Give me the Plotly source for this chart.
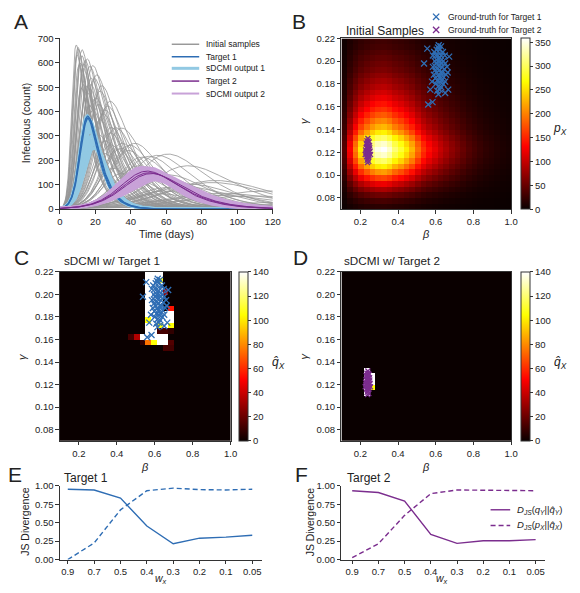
import numpy as np
import plotly.graph_objects as go

W, H = 580, 593
FONT = "Liberation Sans, Arial, sans-serif"
INK = "#222222"

# ======================= DATA =======================
# ---- Panel A: SIR parameter sets (beta, gamma) ----
gray_beta = [1.00, 0.95, 0.90, 0.85, 0.80, 0.75, 0.70, 0.65, 0.60, 0.55,
             0.50, 0.48, 0.45, 0.42, 0.40, 0.38, 0.36, 0.35, 0.34, 0.32,
             0.31, 0.30, 0.29, 0.28, 0.27, 0.26, 0.25, 0.24, 0.23, 0.22,
             0.21, 0.20, 0.19, 0.18, 0.17, 0.16, 0.15, 0.14, 0.13, 0.33,
             0.37, 0.41, 0.44, 0.46, 0.52, 0.56, 0.58, 0.62, 0.66, 0.72,
             0.78, 0.27, 0.29, 0.31, 0.35, 0.39, 0.43, 0.22, 0.24, 0.26,
             0.20, 0.18, 0.16, 0.15, 0.12, 0.11, 0.47, 0.53, 0.68, 0.88,
             0.145, 0.54, 0.63, 0.74, 0.40, 0.36, 0.44, 0.50]
gray_gamma = [0.14, 0.15, 0.13, 0.15, 0.14, 0.12, 0.13, 0.11, 0.10, 0.10,
              0.09, 0.10, 0.09, 0.10, 0.09, 0.11, 0.10, 0.12, 0.09, 0.11,
              0.13, 0.12, 0.10, 0.12, 0.11, 0.13, 0.10, 0.11, 0.12, 0.10,
              0.12, 0.11, 0.12, 0.11, 0.12, 0.11, 0.12, 0.10, 0.11, 0.14,
              0.15, 0.16, 0.14, 0.17, 0.15, 0.13, 0.16, 0.14, 0.17, 0.16,
              0.18, 0.15, 0.17, 0.18, 0.19, 0.20, 0.19, 0.14, 0.16, 0.18,
              0.09, 0.08, 0.08, 0.09, 0.08, 0.09, 0.12, 0.11, 0.12, 0.13,
              0.085, 0.12, 0.15, 0.11, 0.12, 0.13, 0.12, 0.13]

out1_beta = [0.640, 0.630, 0.620, 0.610, 0.600, 0.590, 0.580, 0.570, 0.560,
             0.625, 0.605, 0.585, 0.565, 0.550, 0.545, 0.600, 0.575, 0.590]
out1_gamma = [0.195, 0.200, 0.205, 0.210, 0.215, 0.220, 0.225, 0.230, 0.235,
              0.195, 0.200, 0.205, 0.210, 0.215, 0.220, 0.190, 0.215, 0.200]
target1_beta = [0.630, 0.615, 0.640]
target1_gamma = [0.193, 0.192, 0.200]

out2_beta = [0.250, 0.245, 0.240, 0.235, 0.230, 0.225, 0.220, 0.255,
             0.250, 0.245, 0.235, 0.228, 0.222, 0.218, 0.260, 0.242]
out2_gamma = [0.127, 0.127, 0.127, 0.127, 0.127, 0.127, 0.127, 0.135,
              0.140, 0.142, 0.120, 0.120, 0.120, 0.122, 0.138, 0.135]
target2_beta = [0.238, 0.242, 0.234]
target2_gamma = [0.128, 0.128, 0.127]

N_POP = 1150
I_START = 3.0
DAYS = 120

# ---- Panel B: density of initial samples (30 x 30 bins) ----
beta_profile = [0.11, 0.36, 0.55, 0.72, 0.83, 0.92, 0.98, 1.00, 0.95, 0.86,
                0.80, 0.72, 0.64, 0.53, 0.44, 0.38, 0.33, 0.28, 0.24, 0.20,
                0.17, 0.14, 0.11, 0.09, 0.07, 0.055, 0.045, 0.035, 0.028, 0.022]
gamma_profile = [0.05, 0.09, 0.15, 0.24, 0.34, 0.47, 0.60, 0.73, 0.85, 0.95,
                 1.00, 0.95, 0.85, 0.73, 0.64, 0.57, 0.50, 0.44, 0.39, 0.34,
                 0.30, 0.26, 0.23, 0.20, 0.17, 0.15, 0.13, 0.11, 0.09, 0.08]
PX_PEAK = 358

# ---- Ground-truth parameter clouds ----
t1_beta = [0.555, 0.538, 0.560, 0.583, 0.571, 0.614, 0.666, 0.650, 0.671, 0.663,
           0.616, 0.628, 0.600, 0.610, 0.620, 0.630, 0.615, 0.625, 0.605, 0.635,
           0.640, 0.595, 0.612, 0.628, 0.618, 0.622, 0.608, 0.632, 0.645, 0.590,
           0.600, 0.638, 0.620, 0.605, 0.650, 0.585, 0.615, 0.630, 0.600, 0.642,
           0.655, 0.592, 0.625, 0.610, 0.618, 0.634, 0.603, 0.648, 0.612, 0.626,
           0.598, 0.580, 0.660, 0.620, 0.640, 0.596, 0.622, 0.608, 0.650, 0.585]
t1_gamma = [0.211, 0.198, 0.162, 0.164, 0.175, 0.171, 0.175, 0.172, 0.204, 0.190,
            0.214, 0.213, 0.195, 0.200, 0.192, 0.198, 0.188, 0.185, 0.190, 0.190,
            0.200, 0.200, 0.205, 0.205, 0.196, 0.182, 0.183, 0.183, 0.193, 0.188,
            0.205, 0.208, 0.210, 0.210, 0.198, 0.195, 0.178, 0.177, 0.180, 0.186,
            0.188, 0.208, 0.200, 0.193, 0.186, 0.195, 0.198, 0.205, 0.212, 0.190,
            0.185, 0.182, 0.195, 0.203, 0.180, 0.192, 0.175, 0.174, 0.182, 0.205]
t2_beta = [0.240, 0.235, 0.245, 0.238, 0.243, 0.232, 0.248, 0.236, 0.242, 0.230,
           0.250, 0.239, 0.244, 0.234, 0.246, 0.237, 0.241, 0.233, 0.247, 0.228,
           0.252, 0.240, 0.238, 0.243, 0.236, 0.245, 0.231, 0.249, 0.241, 0.235,
           0.244, 0.239, 0.226, 0.254, 0.237, 0.242]
t2_gamma = [0.122, 0.118, 0.126, 0.128, 0.116, 0.124, 0.120, 0.113, 0.130, 0.120,
            0.124, 0.119, 0.123, 0.127, 0.117, 0.125, 0.114, 0.116, 0.129, 0.122,
            0.121, 0.132, 0.111, 0.120, 0.121, 0.112, 0.128, 0.126, 0.127, 0.130,
            0.118, 0.124, 0.118, 0.118, 0.116, 0.125]

# ---- Panel C: sDCMI posterior with Target 1 (non-empty bins) ----
c_beta = [0.565, 0.595, 0.625,  0.565, 0.595, 0.625,  0.565, 0.595, 0.625,
          0.565, 0.595, 0.625, 0.655,  0.565, 0.595, 0.625,  0.565, 0.595, 0.625,
          0.565, 0.595, 0.625, 0.685,  0.565, 0.595, 0.625, 0.655, 0.685,
          0.565, 0.595, 0.625, 0.655, 0.685,  0.565, 0.595, 0.625, 0.655, 0.685,
          0.565, 0.595, 0.625, 0.655, 0.685,
          0.475, 0.505, 0.535, 0.565, 0.595, 0.625, 0.655,
          0.535, 0.565, 0.595, 0.625, 0.655, 0.685,  0.655, 0.685]
c_gamma = [0.2175, 0.2175, 0.2175,  0.2125, 0.2125, 0.2125,  0.2075, 0.2075, 0.2075,
           0.2025, 0.2025, 0.2025, 0.2025,  0.1975, 0.1975, 0.1975,  0.1925, 0.1925, 0.1925,
           0.1875, 0.1875, 0.1875, 0.1875,  0.1825, 0.1825, 0.1825, 0.1825, 0.1825,
           0.1775, 0.1775, 0.1775, 0.1775, 0.1775,  0.1725, 0.1725, 0.1725, 0.1725, 0.1725,
           0.1675, 0.1675, 0.1675, 0.1675, 0.1675,
           0.1625, 0.1625, 0.1625, 0.1625, 0.1625, 0.1625, 0.1625,
           0.1575, 0.1575, 0.1575, 0.1575, 0.1575, 0.1575,  0.1525, 0.1525]
c_value = [150, 150, 150,  150, 150, 110,  150, 150, 150,
           150, 150, 150, 30,  150, 150, 150,  150, 150, 150,
           150, 150, 150, 55,  150, 150, 150, 150, 150,
           105, 150, 150, 150, 150,  150, 150, 105, 150, 105,
           150, 150, 12, 12, 8,
           12, 35, 150, 150, 150, 150, 150,
           8, 75, 105, 150, 150, 15,  12, 12]

# ---- Panel D: sDCMI posterior with Target 2 (non-empty bins) ----
d_beta = [0.235, 0.235, 0.235, 0.235, 0.235, 0.265, 0.265, 0.265]
d_gamma = [0.1325, 0.1275, 0.1225, 0.1175, 0.1125, 0.1275, 0.1225, 0.1175]
d_value = [150, 150, 150, 150, 150, 150, 150, 105]

# ---- Panels E/F: JS divergences vs w_x ----
wx_labels = ["0.9", "0.7", "0.5", "0.4", "0.3", "0.2", "0.1", "0.05"]
js1_qy = [0.955, 0.945, 0.835, 0.455, 0.215, 0.290, 0.305, 0.330]
js1_px = [0.000, 0.225, 0.675, 0.935, 0.970, 0.950, 0.945, 0.955]
js2_qy = [0.935, 0.910, 0.795, 0.340, 0.220, 0.255, 0.255, 0.270]
js2_px = [0.025, 0.215, 0.600, 0.895, 0.945, 0.945, 0.945, 0.935]

# ======================= STYLE =======================
BLUE = "#2e6db4"
LBLUE = "#92c9e3"
PURPLE = "#7b2d8e"
LPURPLE = "#c8a2d8"
GRAY = "rgba(150,150,150,0.8)"
HOT = [[0.0, "rgb(10,0,0)"], [0.365, "rgb(255,0,0)"],
       [0.746, "rgb(255,255,0)"], [1.0, "rgb(255,255,255)"]]


def sir_infectious(betas, gammas, dt=0.05, every=10):
    b = np.asarray(betas, float)
    g = np.asarray(gammas, float)
    S = np.full(b.shape, N_POP - I_START)
    I = np.full(b.shape, I_START)
    steps = int(round(DAYS / dt))

    def f(S, I):
        inf = b * S * I / N_POP
        return -inf, inf - g * I

    out = [I.copy()]
    for k in range(1, steps + 1):
        a1 = f(S, I)
        a2 = f(S + dt / 2 * a1[0], I + dt / 2 * a1[1])
        a3 = f(S + dt / 2 * a2[0], I + dt / 2 * a2[1])
        a4 = f(S + dt * a3[0], I + dt * a3[1])
        S = S + dt / 6 * (a1[0] + 2 * a2[0] + 2 * a3[0] + a4[0])
        I = I + dt / 6 * (a1[1] + 2 * a2[1] + 2 * a3[1] + a4[1])
        if k % every == 0:
            out.append(I.copy())
    t = np.arange(len(out)) * dt * every
    return t, np.array(out).T


def joined(betas, gammas):
    t, curves = sir_infectious(betas, gammas)
    xs, ys = [], []
    for c in curves:
        xs += list(t) + [None]
        ys += list(c) + [None]
    return xs, ys


def px(x):
    return x / W


def py(y):
    return 1 - y / H


fig = go.Figure()

# ---------- Panel A ----------
for (bl, gl, col, wd) in [(gray_beta, gray_gamma, GRAY, 1.0),
                          (out1_beta, out1_gamma, LBLUE, 2.8),
                          (target1_beta, target1_gamma, BLUE, 1.2),
                          (out2_beta, out2_gamma, LPURPLE, 2.8),
                          (target2_beta, target2_gamma, PURPLE, 1.0)]:
    xs, ys = joined(bl, gl)
    fig.add_trace(go.Scatter(x=xs, y=ys, mode="lines", line=dict(color=col, width=wd),
                             xaxis="x", yaxis="y", showlegend=False, hoverinfo="skip"))

# ---------- heatmap grids ----------
beta_centers = np.round(0.115 + 0.03 * np.arange(30), 4)
gamma_centers = np.round(0.0725 + 0.005 * np.arange(30), 4)
zB = PX_PEAK * np.outer(gamma_profile, beta_profile)


def sparse_grid(bs, gs, vs):
    z = np.zeros((30, 30))
    for b, g, v in zip(bs, gs, vs):
        i = int(round((b - 0.115) / 0.03))
        j = int(round((g - 0.0725) / 0.005))
        z[j, i] = v
    return z


zC = sparse_grid(c_beta, c_gamma, c_value)
zD = sparse_grid(d_beta, d_gamma, d_value)


def cbar(x_px, top_px, bot_px, vals):
    return dict(x=px(x_px), xanchor="left", xpad=0, y=py(top_px), yanchor="top", ypad=0,
                len=(bot_px - top_px) / H, lenmode="fraction", thickness=9,
                thicknessmode="pixels", outlinewidth=1, outlinecolor="#333",
                ticks="outside", ticklen=3, tickwidth=1, tickcolor="#333",
                tickvals=vals, tickfont=dict(size=9.5, color=INK, family=FONT))


fig.add_trace(go.Heatmap(x=beta_centers, y=gamma_centers, z=zB, colorscale=HOT,
                         zmin=0, zmax=PX_PEAK, xaxis="x2", yaxis="y2",
                         colorbar=cbar(528, 33, 207, list(range(0, 351, 50))), hoverinfo="skip"))
fig.add_trace(go.Heatmap(x=beta_centers, y=gamma_centers, z=zC, colorscale=HOT,
                         zmin=0, zmax=140, xaxis="x3", yaxis="y3",
                         colorbar=cbar(241, 271, 443, list(range(0, 141, 20))), hoverinfo="skip"))
fig.add_trace(go.Heatmap(x=beta_centers, y=gamma_centers, z=zD, colorscale=HOT,
                         zmin=0, zmax=140, xaxis="x4", yaxis="y4",
                         colorbar=cbar(528, 271, 443, list(range(0, 141, 20))), hoverinfo="skip"))

for ax, ay, pts in [("x2", "y2", "both"), ("x3", "y3", "t1"), ("x4", "y4", "t2")]:
    if pts in ("both", "t1"):
        fig.add_trace(go.Scatter(x=t1_beta, y=t1_gamma, mode="markers", xaxis=ax, yaxis=ay,
                                 marker=dict(symbol="x-thin", size=6,
                                             line=dict(width=1.3, color=BLUE)),
                                 showlegend=False, hoverinfo="skip"))
    if pts in ("both", "t2"):
        fig.add_trace(go.Scatter(x=t2_beta, y=t2_gamma, mode="markers", xaxis=ax, yaxis=ay,
                                 marker=dict(symbol="x-thin", size=5,
                                             line=dict(width=1.3, color=PURPLE)),
                                 showlegend=False, hoverinfo="skip"))

# ---------- Panels E / F ----------
for ax, ay, qy, pxv, col in [("x5", "y5", js1_qy, js1_px, BLUE), ("x6", "y6", js2_qy, js2_px, PURPLE)]:
    fig.add_trace(go.Scatter(x=wx_labels, y=qy, mode="lines", line=dict(color=col, width=1.4),
                             xaxis=ax, yaxis=ay, showlegend=False, hoverinfo="skip"))
    fig.add_trace(go.Scatter(x=wx_labels, y=pxv, mode="lines",
                             line=dict(color=col, width=1.4, dash="5px,3px"),
                             xaxis=ax, yaxis=ay, showlegend=False, hoverinfo="skip"))


# ---------- axes ----------
def axis(dom, rng, box=False, **kw):
    d = dict(domain=dom, range=rng, showgrid=False, zeroline=False, showline=True,
             linecolor="#333", linewidth=1, ticks="outside", ticklen=3.5, tickwidth=1,
             tickcolor="#333", mirror=box, tickfont=dict(size=9.5, color=INK, family=FONT))
    d.update(kw)
    return d


lay = dict(width=W, height=H, margin=dict(l=0, r=0, t=0, b=0),
           paper_bgcolor="white", plot_bgcolor="white",
           font=dict(family=FONT, color=INK), showlegend=False)

lay["xaxis"] = axis([px(58), px(275)], [0, 120], anchor="y", tickvals=list(range(0, 121, 20)))
lay["yaxis"] = axis([py(207), py(33)], [0, 700], anchor="x", tickvals=list(range(0, 701, 100)))

btick = dict(tickvals=[0.2, 0.4, 0.6, 0.8, 1.0], ticktext=["0.2", "0.4", "0.6", "0.8", "1.0"])
gvals = [0.08, 0.10, 0.12, 0.14, 0.16, 0.18, 0.20, 0.22]
gtick = dict(tickvals=gvals, ticktext=["%.2f" % v for v in gvals])

lay["xaxis2"] = axis([px(345), px(518)], [0.1, 1.0], box=True, anchor="y2", **btick)
lay["yaxis2"] = axis([py(207), py(33)], [0.07, 0.22], box=True, anchor="x2", **gtick)
lay["xaxis3"] = axis([px(58), px(232)], [0.1, 1.0], box=True, anchor="y3", **btick)
lay["yaxis3"] = axis([py(443), py(271)], [0.07, 0.22], box=True, anchor="x3", **gtick)
lay["xaxis4"] = axis([px(345), px(518)], [0.1, 1.0], box=True, anchor="y4", **btick)
lay["yaxis4"] = axis([py(443), py(271)], [0.07, 0.22], box=True, anchor="x4", **gtick)

jt = dict(tickvals=[0, 0.25, 0.5, 0.75, 1.0], ticktext=["0.00", "0.25", "0.50", "0.75", "1.00"])
lay["xaxis5"] = axis([px(58), px(264)], [-0.3, 7.37], anchor="y5", type="category",
                     categoryorder="array", categoryarray=wx_labels)
lay["yaxis5"] = axis([py(564), py(489)], [0, 1.0], anchor="x5", **jt)
lay["xaxis6"] = axis([px(345), px(552)], [-0.41, 7.34], anchor="y6", type="category",
                     categoryorder="array", categoryarray=wx_labels)
lay["yaxis6"] = axis([py(564), py(489)], [0, 1.0], anchor="x6", **jt)

# ---------- annotations ----------
anns = []


def ann(x, y, text, size, xanchor="center", angle=0, color=INK):
    anns.append(dict(x=px(x), y=py(y), xref="paper", yref="paper", text=text, showarrow=False,
                     xanchor=xanchor, yanchor="middle", textangle=angle,
                     font=dict(size=size, color=color, family=FONT)))


for letter, x, y in [("A", 18, 16), ("B", 302, 16), ("C", 19, 256), ("D", 303, 256),
                     ("E", 12, 477), ("F", 304, 477)]:
    ann(x, y, letter, 21)

ann(348, 25, "Initial Samples", 12, "left")
ann(60, 259, "sDCMI w/ Target 1", 11.7, "left")
ann(346, 259, "sDCMI w/ Target 2", 11.7, "left")
ann(60, 481, "Target 1", 12, "left")
ann(349, 481, "Target 2", 12, "left")

ann(166.5, 232, "Time (days)", 10.5)
ann(23, 119, "Infectious (count)", 10.5, angle=-90)
for bx, by in [(431.5, 232), (145, 470), (431.5, 470)]:
    ann(bx, by, "<i>β</i>", 11)
for gx, gy in [(307, 117), (20, 357), (307, 357)]:
    ann(gx, gy, "<i>γ</i>", 11, angle=-90)
ann(23, 526, "JS Divergence", 10.5, angle=-90)
ann(313, 526, "JS Divergence", 10.5, angle=-90)
ann(161, 584, "<i>w</i><sub><i>x</i></sub>", 10.5)
ann(447, 584, "<i>w</i><sub><i>x</i></sub>", 10.5)

ann(568, 125, "<i>p</i><sub><i>X</i></sub>", 12)
ann(281, 364, "<i>q̂</i><sub><i>X</i></sub>", 12)
ann(568, 364, "<i>q̂</i><sub><i>X</i></sub>", 12)

# legend A
shapes = []
legA = [("Initial samples", "#999999", 1.5, 39), ("Target 1", BLUE, 1.5, 51.7),
        ("sDCMI output 1", LBLUE, 3, 63.5), ("Target 2", PURPLE, 1.5, 76.5),
        ("sDCMI output 2", LPURPLE, 2, 89.2)]
for txt, col, wd, y in legA:
    shapes.append(dict(type="line", xref="paper", yref="paper", x0=px(172), x1=px(200),
                       y0=py(y), y1=py(y), line=dict(color=col, width=wd)))
    ann(205, y, txt, 8.5, "left")

# legend B
for txt, col, y in [("Ground-truth for Target 1", BLUE, 11), ("Ground-truth for Target 2", PURPLE, 24.3)]:
    cx, r = 441.5, 3.2
    path = "M %f,%f L %f,%f M %f,%f L %f,%f" % (px(cx - r), py(y - r), px(cx + r), py(y + r),
                                                px(cx - r), py(y + r), px(cx + r), py(y - r))
    shapes.append(dict(type="path", xref="paper", yref="paper", path=path,
                       line=dict(color=col, width=1.3)))
    ann(451.5, y, txt, 8.5, "left")

# legend F
for txt, dash, y in [("<i>D</i><sub><i>JS</i></sub>(<i>q</i><sub><i>Y</i></sub>||<i>q̂</i><sub><i>Y</i></sub>)", "solid", 513.3),
                     ("<i>D</i><sub><i>JS</i></sub>(<i>p</i><sub><i>X</i></sub>||<i>q̂</i><sub><i>X</i></sub>)", "5px,3px", 529.3)]:
    shapes.append(dict(type="line", xref="paper", yref="paper", x0=px(497), x1=px(517),
                       y0=py(y), y1=py(y), line=dict(color=PURPLE, width=1.4, dash=dash)))
    ann(522, y, txt, 9.5, "left")

lay["annotations"] = anns
lay["shapes"] = shapes
lay["hovermode"] = False
fig.update_layout(**lay)
fig.write_html("out.html", config={"displayModeBar": False, "staticPlot": True},
               post_script="document.body.style.margin='0';document.body.style.overflow='hidden';")
